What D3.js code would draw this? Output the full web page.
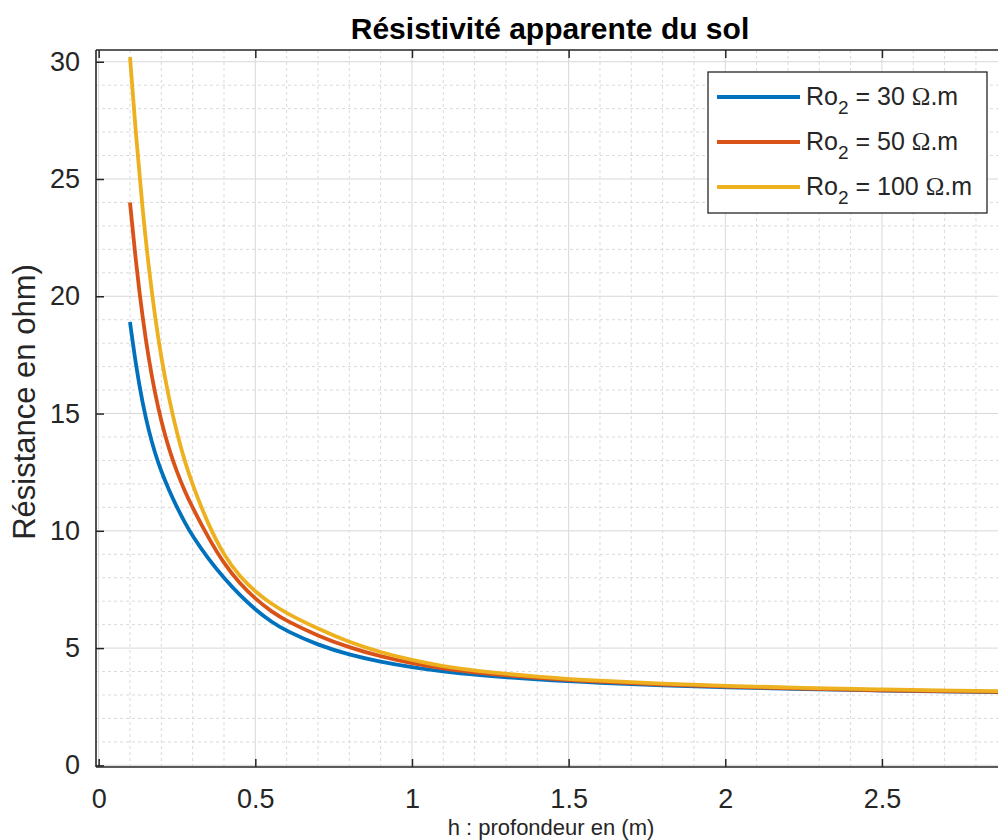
<!DOCTYPE html>
<html>
<head>
<meta charset="utf-8">
<script src="https://cdn.jsdelivr.net/npm/d3@7"></script>
<style>
  html, body { margin: 0; padding: 0; background: #ffffff; }
  svg { display: block; font-family: "Liberation Sans", Arial, Helvetica, sans-serif; }
</style>
</head>
<body>
<svg id="chart" width="998" height="840"></svg>
<script>
// ---- data ----
const depth = [0.10, 0.12, 0.14, 0.16, 0.18, 0.20, 0.225, 0.25, 0.275, 0.30, 0.35, 0.40, 0.45, 0.50, 0.55, 0.60, 0.70, 0.80, 0.90, 1.00, 1.10, 1.20, 1.40, 1.60, 1.80, 2.00, 2.25, 2.50, 2.75, 2.90];
const ro30  = [18.9, 16.95, 15.45, 14.25, 13.3, 12.52, 11.72, 11.0, 10.35, 9.77, 8.8, 7.98, 7.26, 6.64, 6.13, 5.72, 5.13, 4.71, 4.41, 4.18, 4.0, 3.86, 3.65, 3.51, 3.41, 3.33, 3.25, 3.19, 3.14, 3.115];
const ro50  = [24.0, 21.3, 19.1, 17.3, 15.85, 14.65, 13.45, 12.5, 11.68, 10.98, 9.7, 8.6, 7.75, 7.1, 6.57, 6.15, 5.52, 5.02, 4.64, 4.35, 4.13, 3.96, 3.72, 3.56, 3.44, 3.36, 3.27, 3.2, 3.15, 3.13];
const ro100 = [30.2, 26.7, 23.7, 21.2, 19.1, 17.35, 15.6, 14.15, 12.95, 11.95, 10.25, 8.95, 8.05, 7.4, 6.9, 6.48, 5.82, 5.25, 4.82, 4.48, 4.22, 4.03, 3.77, 3.6, 3.48, 3.39, 3.3, 3.235, 3.185, 3.16];
const seriesNames = ["30", "50", "100"];
const xTicks = [0, 0.5, 1, 1.5, 2, 2.5];
const yTicks = [0, 5, 10, 15, 20, 25, 30];
const titleText = "Résistivité apparente du sol";
const xLabelText = "h : profondeur en (m)";
const yLabelText = "Résistance en ohm)";

const colors = ["#0072BD", "#D95319", "#EDB120"];
const allSeries = [ro30, ro50, ro100];

// ---- layout ----
const svg = d3.select("#chart");
const pL = 96, pT = 50, pB = 767, pR = 1001;
const x = d3.scaleLinear().domain([-0.0085, 2.88]).range([pL, pR]);
const y = d3.scaleLinear().domain([-0.07, 30.5]).range([pB, pT]);

const clipId = "plotclip";
svg.append("defs").append("clipPath").attr("id", clipId)
  .append("rect").attr("x", pL).attr("y", pT).attr("width", pR - pL).attr("height", pB - pT);

const grid = svg.append("g");
// minor grid
const xMinor = d3.range(0, 2.9, 0.1).filter(v => Math.abs(v * 2 - Math.round(v * 2)) > 1e-6);
const yMinor = d3.range(0, 31, 1).filter(v => v % 5 !== 0);
grid.selectAll(".xmin").data(xMinor).join("line")
  .attr("x1", d => x(d)).attr("x2", d => x(d)).attr("y1", pT).attr("y2", pB)
  .attr("stroke", "#dadada").attr("stroke-width", 1).attr("stroke-dasharray", "3,3");
grid.selectAll(".ymin").data(yMinor).join("line")
  .attr("y1", d => y(d)).attr("y2", d => y(d)).attr("x1", pL).attr("x2", pR)
  .attr("stroke", "#dadada").attr("stroke-width", 1).attr("stroke-dasharray", "3,3");
// major grid
grid.selectAll(".xmaj").data(xTicks).join("line")
  .attr("x1", d => x(d)).attr("x2", d => x(d)).attr("y1", pT).attr("y2", pB)
  .attr("stroke", "#d8d8d8").attr("stroke-width", 1);
grid.selectAll(".ymaj").data(yTicks).join("line")
  .attr("y1", d => y(d)).attr("y2", d => y(d)).attr("x1", pL).attr("x2", pR)
  .attr("stroke", "#d8d8d8").attr("stroke-width", 1);

// curves
const line = d3.line().x(d => x(d[0])).y(d => y(d[1])).curve(d3.curveBasis);
const plot = svg.append("g").attr("clip-path", `url(#${clipId})`);
allSeries.forEach((s, i) => {
  plot.append("path")
    .datum(depth.map((h, j) => [h, s[j]]))
    .attr("d", line)
    .attr("fill", "none")
    .attr("stroke", colors[i])
    .attr("stroke-width", 3.8)
    .attr("stroke-linejoin", "round");
});

// axes (MATLAB-like, ticks inward, box on)
const axisColor = "#262626";
const tickLen = 8;
const gx = svg.append("g").attr("transform", `translate(0,${pB})`)
  .call(d3.axisBottom(x).tickValues(xTicks).tickSize(-tickLen).tickPadding(22).tickFormat(d3.format("~g")));
const gxt = svg.append("g").attr("transform", `translate(0,${pT})`)
  .call(d3.axisTop(x).tickValues(xTicks).tickSize(-tickLen).tickFormat(""));
const gy = svg.append("g").attr("transform", `translate(${pL},0)`)
  .call(d3.axisLeft(y).tickValues(yTicks).tickSize(-tickLen).tickPadding(tickLen + 8));
[gx, gxt, gy].forEach(g => {
  g.select(".domain").remove();
  g.selectAll(".tick line").attr("stroke", axisColor).attr("stroke-width", 1.5);
  g.selectAll(".tick text").attr("fill", axisColor).attr("font-size", 27)
    .attr("font-family", "'Liberation Sans', Arial, sans-serif");
});
// frame lines
svg.append("line").attr("x1", pL).attr("x2", pR).attr("y1", pB).attr("y2", pB)
  .attr("stroke", axisColor).attr("stroke-width", 1.6);
svg.append("line").attr("x1", pL).attr("x2", pR).attr("y1", pT).attr("y2", pT)
  .attr("stroke", axisColor).attr("stroke-width", 1.6);
svg.append("line").attr("x1", pL).attr("x2", pL).attr("y1", pT).attr("y2", pB)
  .attr("stroke", axisColor).attr("stroke-width", 1.6);

// title
svg.append("text").attr("x", 550).attr("y", 39).attr("text-anchor", "middle")
  .attr("font-size", 30).attr("font-weight", "bold").attr("fill", "#000")
  .text(titleText);
// x label (partly hidden at the bottom edge in the original; kept fully visible here)
svg.append("text").attr("x", 551).attr("y", 835).attr("text-anchor", "middle")
  .attr("font-size", 22).attr("fill", axisColor).text(xLabelText);
// y label
svg.append("text").attr("transform", "translate(35,402) rotate(-90)").attr("text-anchor", "middle")
  .attr("font-size", 31).attr("fill", axisColor).text(yLabelText);

// legend
const lg = svg.append("g");
lg.append("rect").attr("x", 708).attr("y", 72).attr("width", 279).attr("height", 141)
  .attr("fill", "#fff").attr("stroke", axisColor).attr("stroke-width", 1.3);
seriesNames.forEach((n, i) => {
  const ly = 97 + i * 45;
  lg.append("line").attr("x1", 717).attr("x2", 800).attr("y1", ly).attr("y2", ly)
    .attr("stroke", colors[i]).attr("stroke-width", 3.8);
  const t = lg.append("text").attr("x", 806).attr("y", ly + 8).attr("font-size", 25).attr("fill", axisColor);
  t.append("tspan").text("Ro");
  t.append("tspan").attr("dy", 9).attr("font-size", 19).text("2");
  t.append("tspan").attr("dy", -9).text(" = " + n + " ");
  t.append("tspan").attr("font-family", "'Liberation Serif', 'DejaVu Serif', serif").text("Ω");
  t.append("tspan").text(".m");
});
</script>
</body>
</html>
